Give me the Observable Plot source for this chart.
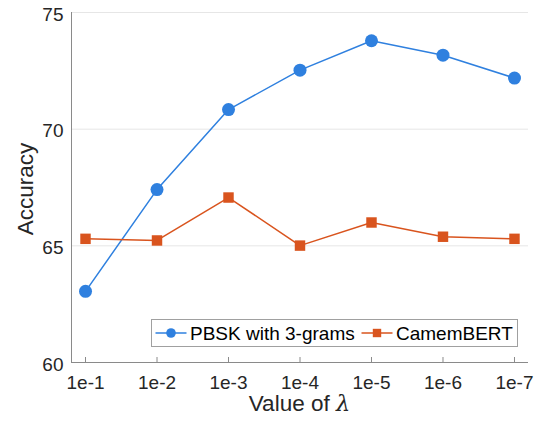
<!DOCTYPE html>
<html><head><meta charset="utf-8">
<script src="https://cdn.jsdelivr.net/npm/d3@7"></script>
<script src="https://cdn.jsdelivr.net/npm/@observablehq/plot@0.6"></script>
<style>
  body{margin:0;background:#fff}
  #chart{width:546px;height:424px}
</style>
</head><body><div id="chart"></div>
<script>
// ---- data ----
const lambdas = ["1e-1", "1e-2", "1e-3", "1e-4", "1e-5", "1e-6", "1e-7"];
const pbsk = [63.05, 67.41, 70.84, 72.53, 73.79, 73.17, 72.19];
const camembert = [65.30, 65.23, 67.07, 65.01, 66.00, 65.39, 65.30];
const seriesNames = ["PBSK with 3-grams", "CamemBERT"];
const seriesColors = ["#2f80df", "#d9541e"];
const seriesSymbols = ["circle", "square"];
const yTicks = [60, 65, 70, 75];
const yDomain = [60, 75];
const xTitle = "Value of ";
const xTitleSymbol = "λ";
const yTitle = "Accuracy";

const rowsA = lambdas.map((l, i) => ({lambda: l, acc: pbsk[i], s: seriesNames[0]}));
const rowsB = lambdas.map((l, i) => ({lambda: l, acc: camembert[i], s: seriesNames[1]}));

const FONT = "'Liberation Sans', Arial, Helvetica, sans-serif";
const TEXT = "#262626";
const AXIS = "#8a8a8a";

// left axis line (frame edge)
const leftAxisLine = (index, scales, values, dims) => {
  const {marginLeft, marginTop, marginBottom, height} = dims;
  return d3.create("svg:line")
    .attr("x1", marginLeft + 0.5).attr("x2", marginLeft + 0.5)
    .attr("y1", marginTop).attr("y2", height - marginBottom)
    .attr("stroke", AXIS).attr("stroke-width", 1).node();
};

// axis titles
const titles = (index, scales, values, dims) => {
  const {width, height, marginLeft, marginRight, marginTop, marginBottom} = dims;
  const g = d3.create("svg:g")
    .attr("font-family", FONT).attr("font-size", 22.5).attr("fill", TEXT);
  const tx = g.append("text")
    .attr("x", (marginLeft + width - marginRight) / 2)
    .attr("y", height - marginBottom + 49)
    .attr("text-anchor", "middle");
  tx.append("tspan").text(xTitle);
  tx.append("tspan").attr("font-style", "italic").attr("font-family", "'DejaVu Serif', serif").text(xTitleSymbol);
  g.append("text")
    .attr("transform", `translate(${marginLeft - 38},${(marginTop + height - marginBottom) / 2 + 2}) rotate(-90)`)
    .attr("text-anchor", "middle")
    .text(yTitle);
  return g.node();
};

// legend inside the plot area (bottom-right)
const legend = (index, scales, values, dims) => {
  const {width, height, marginRight, marginBottom} = dims;
  const boxW = 366, boxH = 27;
  const x0 = width - marginRight - 11 - boxW;
  const y0 = height - marginBottom - 16 - boxH;
  const cy = y0 + boxH / 2 + 0.5;
  const g = d3.create("svg:g").attr("font-family", FONT).attr("font-size", 19).attr("fill", "#000")
    .attr("text-anchor", "start");
  g.append("rect").attr("x", x0 + 0.5).attr("y", y0 + 0.5).attr("width", boxW).attr("height", boxH)
    .attr("fill", "#fff").attr("stroke", "#a0a0a0").attr("stroke-width", 1);
  const offsets = [4.5, 210.5];
  seriesNames.forEach((name, i) => {
    const sx = x0 + offsets[i];
    g.append("line").attr("x1", sx).attr("x2", sx + 31).attr("y1", cy).attr("y2", cy)
      .attr("stroke", seriesColors[i]).attr("stroke-width", 1.5);
    const mx = sx + 15.5;
    if (seriesSymbols[i] === "circle") {
      g.append("circle").attr("cx", mx).attr("cy", cy).attr("r", 4.8).attr("fill", seriesColors[i]);
    } else {
      g.append("rect").attr("x", mx - 4.2).attr("y", cy - 4.2).attr("width", 8.4).attr("height", 8.4).attr("fill", seriesColors[i]);
    }
    g.append("text").attr("x", sx + 34.5).attr("y", cy).attr("dy", "0.35em")
      .attr("text-anchor", "start").text(name);
  });
  return g.node();
};

const plot = Plot.plot({
  width: 546,
  height: 424,
  marginLeft: 71,
  marginRight: 18,
  marginTop: 12,
  marginBottom: 62,
  style: {fontFamily: FONT, fontSize: "19px", color: TEXT, background: "#fff", overflow: "visible"},
  x: {type: "point", domain: lambdas, padding: 0.196, round: false, align: 0.5, label: null},
  y: {domain: yDomain, ticks: yTicks, label: null},
  marks: [
    Plot.gridY(yTicks, {stroke: "#e6e6e6", strokeOpacity: 1}),
    Plot.ruleY([yDomain[0]], {stroke: AXIS}),
    Plot.ruleX(lambdas, {x: d => d, y1: yDomain[0], y2: yDomain[0], insetTop: -5, stroke: AXIS}),
    leftAxisLine,
    Plot.axisX({tickSize: 0, tickPadding: 13, fontSize: 19, fill: TEXT}),
    Plot.axisY({ticks: yTicks, tickSize: 0, tickPadding: 8, dy: 2, fontSize: 19, fill: TEXT}),
    Plot.line(rowsA, {x: "lambda", y: "acc", stroke: seriesColors[0], strokeWidth: 1.5}),
    Plot.line(rowsB, {x: "lambda", y: "acc", stroke: seriesColors[1], strokeWidth: 1.5}),
    Plot.dot(rowsA, {x: "lambda", y: "acc", symbol: seriesSymbols[0], r: 6.5, fill: seriesColors[0], stroke: null}),
    Plot.dot(rowsB, {x: "lambda", y: "acc", symbol: seriesSymbols[1], r: 5.9, fill: seriesColors[1], stroke: null}),
    titles,
    legend
  ]
});
document.getElementById("chart").appendChild(plot);
</script>
</body></html>
